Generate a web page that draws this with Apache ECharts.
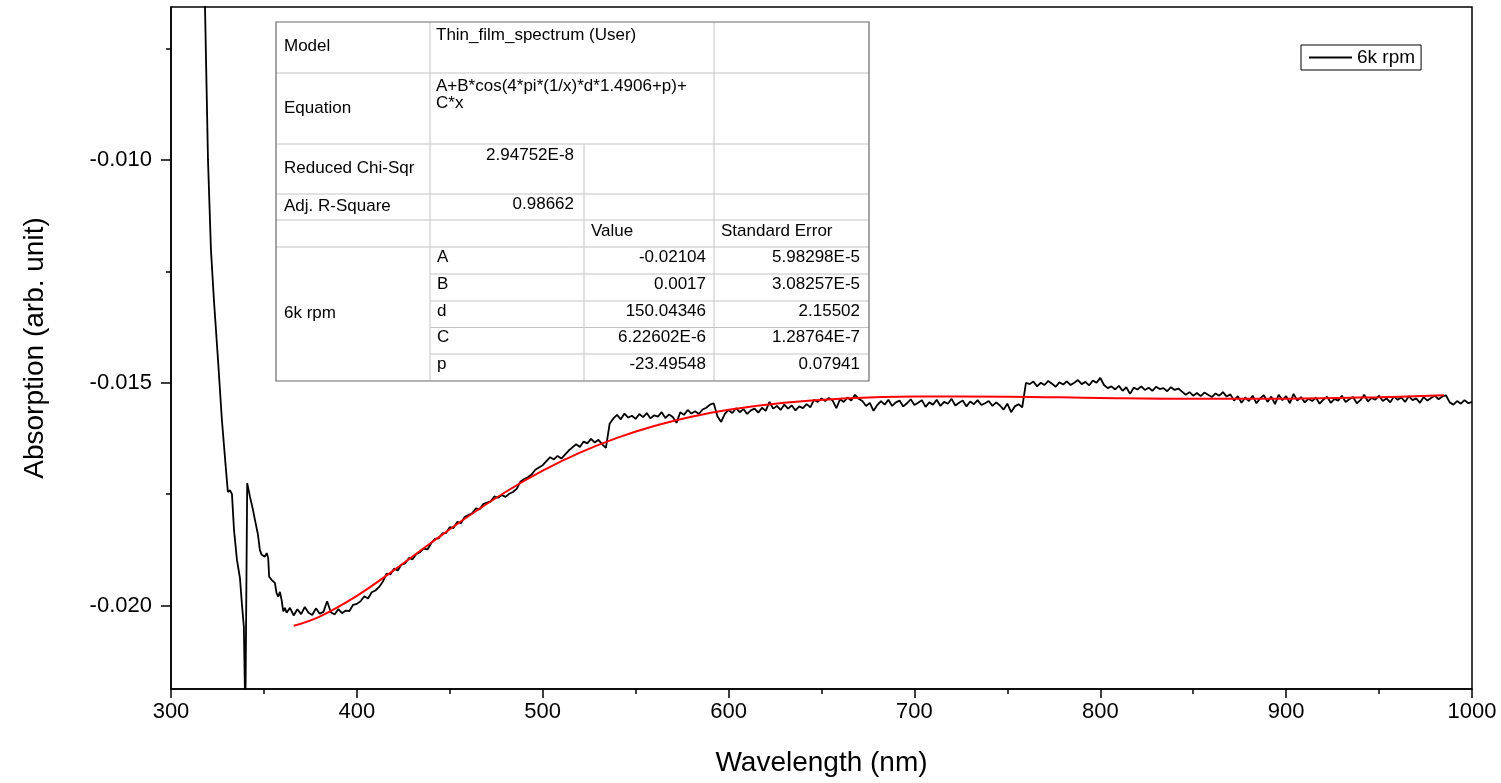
<!DOCTYPE html>
<html>
<head>
<meta charset="utf-8">
<script src="https://cdn.jsdelivr.net/npm/echarts@6/dist/echarts.min.js"></script>
<style>
html,body{margin:0;padding:0;background:#fff;}
#c{width:1501px;height:783px;}
</style>
</head>
<body>
<div id="c"></div>
<script>
// ---------------- DATA ----------------
const wavelengthSteep = [316, 318.3, 319.9, 321.5, 323.1, 325.3, 327.4, 329.6, 330.6, 331.7, 332.8, 333.9, 335.5, 337.1, 338.2, 339.2, 340.0, 341.0, 342.5, 344.1, 345.2, 346.2, 346.8, 347.8, 348.8, 350.5, 351.5, 352.3, 352.8, 354.1, 355.0, 355.9, 356.8, 357.7, 358.6, 359.5, 360.4, 361.3, 362.2];
const absorptionSteep = [-0.0020, -0.00658, -0.0100, -0.01202, -0.01315, -0.01449, -0.01584, -0.01696, -0.01745, -0.01741, -0.01750, -0.01830, -0.01898, -0.01938, -0.01999, -0.02048, -0.0225, -0.01725, -0.01756, -0.01785, -0.01808, -0.01812, -0.01841, -0.01875, -0.01886, -0.01890, -0.01882, -0.01893, -0.01935, -0.01942, -0.01938, -0.01949, -0.01972, -0.01980, -0.01969, -0.01987, -0.02013, -0.02005, -0.02016];

// Rest of the scan: sampled every 2 nm from 364 nm to 1000 nm
const scanStart = 364, scanStep = 2;
const absorptionScan = [
-0.02005,-0.02022,-0.02008,-0.02019,-0.02003,-0.02016,-0.02021,-0.02006,-0.02018,-0.02014,-0.01990,-0.02015,-0.02020,-0.02008,-0.02017,-0.02011,
-0.02012,-0.01998,-0.01996,
-0.01990,-0.01979,-0.01984,-0.01970,-0.01966,-0.01958,-0.01946,-0.01928,-0.01930,-0.01917,-0.01921,-0.01908,-0.01905,-0.01893,-0.01896,-0.01884,-0.01880,-0.01872,-0.01874,-0.01860,
-0.01850,-0.01849,-0.01838,-0.01837,-0.01824,-0.01826,-0.01812,-0.01815,-0.01801,-0.01797,-0.01793,-0.01782,-0.01784,-0.01772,-0.01769,-0.01766,-0.01755,-0.01758,-0.01752,-0.01756,-0.01749,-0.01745,-0.01738,-0.01722,-0.01716,-0.01712,-0.01706,-0.01695,-0.01690,-0.01685,
-0.01676,-0.01667,-0.01672,-0.01664,-0.01670,-0.01661,-0.01652,-0.01645,-0.01638,-0.01644,-0.01632,-0.01636,-0.01626,-0.01634,-0.01628,-0.01638,-0.01646,-0.01592,-0.01580,-0.01572,
-0.01582,-0.01569,-0.01578,-0.01574,-0.01581,-0.01570,-0.01577,-0.01568,-0.01580,-0.01573,
-0.01576,-0.01566,-0.01579,-0.01571,-0.01577,-0.01590,-0.01566,-0.01572,-0.01561,-0.01569,
-0.01564,-0.01570,-0.01560,-0.01556,-0.01549,-0.01546,-0.01575,-0.01588,-0.01570,-0.01561,
-0.01568,-0.01557,-0.01566,-0.01559,-0.01570,-0.01562,-0.01558,-0.01567,-0.01556,-0.01563,
-0.01543,-0.01558,-0.01552,-0.01561,-0.01549,-0.01558,-0.01551,-0.01562,-0.01553,-0.01557,
-0.01548,-0.01555,-0.01538,-0.01543,-0.01535,-0.01541,-0.01534,-0.01540,-0.01557,-0.01537,
-0.01543,-0.01533,-0.01540,-0.01527,-0.01536,-0.01541,-0.01552,-0.01545,-0.01563,-0.01550,
-0.01541,-0.01549,-0.01538,-0.01552,-0.01544,-0.01540,-0.01553,-0.01546,-0.01537,-0.01550,
-0.01545,-0.01539,-0.01554,-0.01544,-0.01549,-0.01538,-0.01552,-0.01543,-0.01547,-0.01536,
-0.01551,-0.01545,-0.01540,-0.01553,-0.01542,-0.01548,-0.01539,-0.01550,-0.01546,-0.01541,
-0.01552,-0.01544,-0.01551,-0.01560,-0.01547,-0.01566,-0.01553,-0.01548,-0.01555,
-0.01500,-0.01503,-0.01497,-0.01508,-0.01500,-0.01505,-0.01496,-0.01502,-0.01509,-0.01499,
-0.01504,-0.01497,-0.01505,-0.01500,-0.01494,-0.01503,-0.01498,-0.01506,-0.01495,-0.01500,
-0.01489,-0.01505,-0.01512,-0.01508,-0.01515,-0.01507,-0.01518,-0.01510,-0.01525,-0.01511,
-0.01515,-0.01508,-0.01516,-0.01511,-0.01518,-0.01509,-0.01514,-0.01512,-0.01519,-0.01510,
-0.01516,-0.01513,-0.01520,-0.01527,-0.01521,-0.01529,-0.01523,-0.01530,-0.01522,-0.01527,
-0.01532,-0.01524,-0.01529,-0.01521,-0.01531,-0.01526,-0.01540,-0.01530,-0.01545,-0.01533,
-0.01541,-0.01529,-0.01546,-0.01535,-0.01528,-0.01543,-0.01531,-0.01548,-0.01527,-0.01539,
-0.01530,-0.01546,-0.01525,-0.01540,-0.01532,-0.01544,-0.01536,-0.01541,-0.01533,-0.01547,
-0.01538,-0.01531,-0.01545,-0.01536,-0.01540,-0.01529,-0.01543,-0.01537,-0.01532,-0.01546,
-0.01539,-0.01527,-0.01542,-0.01534,-0.01538,-0.01529,-0.01541,-0.01535,-0.01544,-0.01531,
-0.01538,-0.01533,-0.01543,-0.01530,-0.01539,-0.01535,-0.01545,-0.01532,-0.01540,-0.01534,
-0.01529,-0.01537,-0.01531,-0.01528,-0.01544,-0.01549,-0.01541,-0.01547,-0.01539,-0.01546,
-0.01543
];

// Fit curve (red)
const fitWavelength = [366, 380, 400, 420, 440, 460, 480, 500, 520, 540, 560, 580, 600, 630, 660, 700, 750, 800, 850, 900, 950, 985];
const fitAbsorption = [-0.020452, -0.020245, -0.019781, -0.019203, -0.018590, -0.017995, -0.017450, -0.016973, -0.016569, -0.016237, -0.015970, -0.015763, -0.015606, -0.015447, -0.015357, -0.015309, -0.015312, -0.015341, -0.015358, -0.015356, -0.015323, -0.015281];

// Axes
const xMin = 300, xMax = 1000, xInterval = 100;
const yMin = -0.02187, yMax = -0.00657;
const yMajorTicks = [-0.020, -0.015, -0.010];
const yMinorTicks = [-0.0175, -0.0125, -0.0075];

// Fit report table
const tableModelLabel = 'Model', tableModel = 'Thin_film_spectrum (User)';
const tableEquationLabel = 'Equation', tableEquation = ['A+B*cos(4*pi*(1/x)*d*1.4906+p)+', 'C*x'];
const tableChiLabel = 'Reduced Chi-Sqr', tableChi = '2.94752E-8';
const tableR2Label = 'Adj. R-Square', tableR2 = '0.98662';
const tableHeaders = ['Value', 'Standard Error'];
const tableSeriesName = '6k rpm';
const fitParamNames = ['A', 'B', 'd', 'C', 'p'];
const fitParamValues = ['-0.02104', '0.0017', '150.04346', '6.22602E-6', '-23.49548'];
const fitParamErrors = ['5.98298E-5', '3.08257E-5', '2.15502', '1.28764E-7', '0.07941'];

// ---------------- BUILD ----------------
const blackData = [];
for (let i = 0; i < wavelengthSteep.length; i++) blackData.push([wavelengthSteep[i], absorptionSteep[i]]);
for (let i = 0; i < absorptionScan.length; i++) blackData.push([scanStart + i * scanStep, absorptionScan[i]]);
const fitData = fitWavelength.map((w, i) => [w, fitAbsorption[i]]);

const FONT = '"Liberation Sans", Arial, sans-serif';
const TF = '17px ' + FONT;

// table geometry
const TX = [276, 430, 584, 714, 869];
const TY = [22, 73, 144, 194, 220, 247, 274, 301, 327.5, 354, 381];
const lightLine = {stroke: '#c4c4c4', lineWidth: 1};
const g = [];
g.push({type: 'rect', shape: {x: TX[0], y: TY[0], width: TX[4] - TX[0], height: TY[10] - TY[0]}, style: {fill: '#fff', stroke: null}, z: 10});
function hl(y, x1, x2) { g.push({type: 'line', shape: {x1: x1, y1: y, x2: x2, y2: y}, style: lightLine, z: 11}); }
function vl(x, y1, y2) { g.push({type: 'line', shape: {x1: x, y1: y1, x2: x, y2: y2}, style: lightLine, z: 11}); }
hl(TY[1], TX[0], TX[4]); hl(TY[2], TX[0], TX[4]); hl(TY[3], TX[0], TX[4]); hl(TY[4], TX[0], TX[4]); hl(TY[5], TX[0], TX[4]);
for (let k = 6; k <= 9; k++) hl(TY[k], TX[1], TX[4]);
vl(TX[1], TY[0], TY[10]); vl(TX[3], TY[0], TY[10]); vl(TX[2], TY[2], TY[10]);
g.push({type: 'rect', shape: {x: TX[0], y: TY[0], width: TX[4] - TX[0], height: TY[10] - TY[0]}, style: {fill: null, stroke: '#6a6a6a', lineWidth: 1.2}, z: 12});
function txt(s, x, y, align) {
  g.push({type: 'text', x: x, y: y, style: {text: s, font: TF, fill: '#000', align: align || 'left', verticalAlign: 'middle'}, z: 13});
}
txt(tableModelLabel, 284, 46); txt(tableModel, 436, 35);
txt(tableEquationLabel, 284, 108); txt(tableEquation[0], 436, 86); txt(tableEquation[1], 436, 103);
txt(tableChiLabel, 284, 168); txt(tableChi, 574, 155, 'right');
txt(tableR2Label, 284, 206); txt(tableR2, 574, 204, 'right');
txt(tableHeaders[0], 591, 231); txt(tableHeaders[1], 721, 231);
txt(tableSeriesName, 284, 313);
for (let k = 0; k < fitParamNames.length; k++) {
  const cy = TY[5 + k] + 10;
  txt(fitParamNames[k], 437, cy);
  txt(fitParamValues[k], 706, cy, 'right');
  txt(fitParamErrors[k], 860, cy, 'right');
}

const axisLine = {show: true, onZero: false, lineStyle: {color: '#000', width: 1.5}};
const option = {
  animation: false,
  backgroundColor: '#fff',
  grid: {left: 171, right: 29, top: 7, bottom: 94, show: true, borderColor: '#000', borderWidth: 1.5, backgroundColor: 'transparent', containLabel: false, outerBoundsMode: 'none'},
  legend: {
    data: ['6k rpm'], left: 1301, top: 45, orient: 'horizontal', selectedMode: false,
    borderColor: '#000', borderWidth: 1, borderRadius: 0, padding: [3, 6, 3, 8],
    icon: 'rect', itemWidth: 43, itemHeight: 2, itemGap: 0,
    textStyle: {fontSize: 19, color: '#000', fontFamily: FONT}
  },
  xAxis: {
    type: 'value', min: xMin, max: xMax, interval: xInterval,
    axisLine: axisLine,
    axisTick: {show: true, inside: false, length: 9, lineStyle: {color: '#000', width: 1.5}},
    minorTick: {show: true, splitNumber: 2, length: 5, lineStyle: {color: '#000', width: 1.5}},
    axisLabel: {fontSize: 22, color: '#000', fontFamily: FONT, margin: 12, formatter: v => String(v)},
    splitLine: {show: false}, minorSplitLine: {show: false},
    name: 'Wavelength (nm)', nameLocation: 'middle', nameGap: 60,
    nameTextStyle: {fontSize: 28, color: '#000', fontFamily: FONT}
  },
  yAxis: [{
    type: 'value', min: yMin, max: yMax, position: 'left',
    axisLine: axisLine,
    axisTick: {show: true, inside: false, length: 10, customValues: yMajorTicks, lineStyle: {color: '#000', width: 1.5}},
    axisLabel: {customValues: yMajorTicks, formatter: v => v.toFixed(3), fontSize: 22, color: '#000', fontFamily: FONT, margin: 19},
    splitLine: {show: false},
    name: 'Absorption (arb. unit)', nameLocation: 'middle', nameGap: 122,
    nameTextStyle: {fontSize: 28, color: '#000', fontFamily: FONT}
  }, {
    type: 'value', min: yMin, max: yMax, position: 'left',
    axisLine: {show: false},
    axisTick: {show: true, inside: false, length: 5, customValues: yMinorTicks, lineStyle: {color: '#000', width: 1.5}},
    axisLabel: {show: false},
    splitLine: {show: false}
  }],
  series: [{
    name: '6k rpm', type: 'line', data: blackData, yAxisIndex: 0,
    symbol: 'none', showSymbol: false, clip: true,
    lineStyle: {color: '#000', width: 1.8}, itemStyle: {color: '#000'}, z: 2
  }, {
    name: 'fit', type: 'line', data: fitData, yAxisIndex: 0, smooth: 0.4,
    symbol: 'none', showSymbol: false, clip: true,
    lineStyle: {color: '#ff0000', width: 2}, itemStyle: {color: '#ff0000'}, z: 3
  }],
  graphic: {elements: g}
};
const chart = echarts.init(document.getElementById('c'), null, {renderer: 'canvas'});
chart.setOption(option);
</script>
</body>
</html>
